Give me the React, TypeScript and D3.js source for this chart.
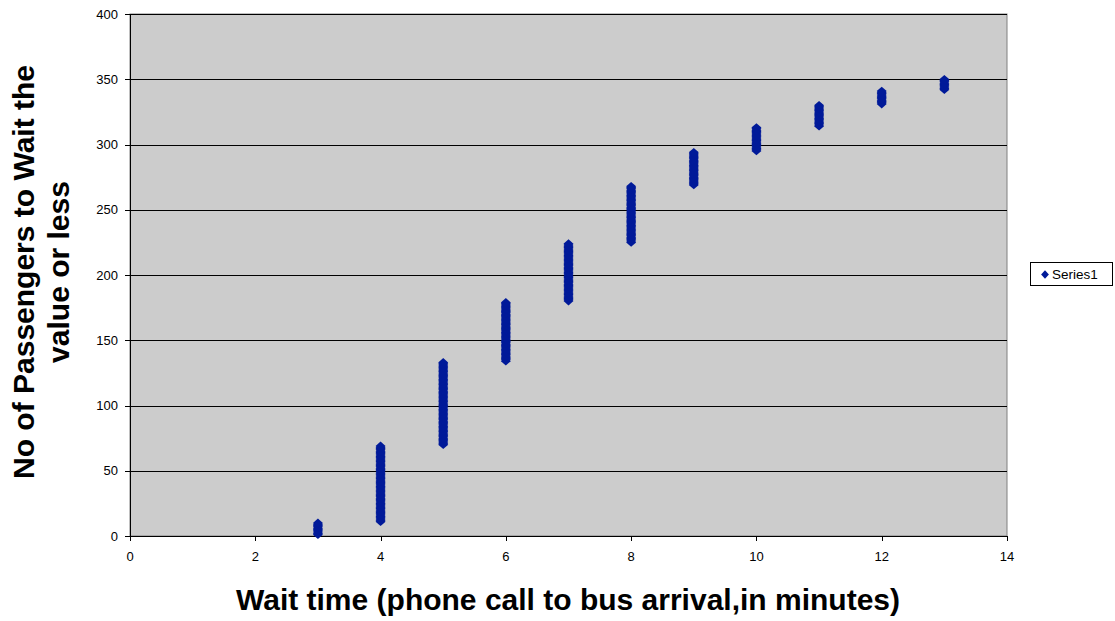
import React from "react";
import * as d3 from "d3";

const waitTimes = [3, 4, 5, 6, 7, 8, 9, 10, 11, 12, 13];
const passengerCounts = [10, 59, 64, 46, 45, 44, 26, 19, 17, 11, 9];
const xTicks = [0, 2, 4, 6, 8, 10, 12, 14];
const yTicks = [0, 50, 100, 150, 200, 250, 300, 350, 400];
const seriesName = "Series1";

export default function App() {
  const W = 1115, H = 621;
  const left = 130, right = 1007, top = 14, bottom = 536;
  const x = d3.scaleLinear().domain([0, 14]).range([left, right]);
  const y = d3.scaleLinear().domain([0, 400]).range([bottom, top]);

  const points: { t: number; v: number }[] = [];
  let cum = 0;
  waitTimes.forEach((t, i) => {
    for (let k = 0; k < passengerCounts[i]; k++) {
      cum += 1;
      points.push({ t, v: cum });
    }
  });

  const diamond = d3.symbol().type(d3.symbolDiamond2).size(48)();
  const font = "Liberation Sans, Arial, sans-serif";
  const markColor = "#001a99";

  return (
    <svg width={W} height={H} style={{ position: "absolute", left: 0, top: 0 }}>
      <rect x={0} y={0} width={W} height={H} fill="#fff" />
      <rect x={left} y={top} width={right - left} height={bottom - top} fill="#cccccc" stroke="#808080" />
      {yTicks.map((t) => (
        <line key={"g" + t} x1={left} x2={right} y1={Math.round(y(t)) + 0.5} y2={Math.round(y(t)) + 0.5} stroke="#000" strokeWidth={1} />
      ))}
      <line x1={left + 0.5} x2={left + 0.5} y1={top} y2={bottom} stroke="#000" />
      <line x1={left} x2={right} y1={bottom + 0.5} y2={bottom + 0.5} stroke="#000" />
      {yTicks.map((t) => (
        <g key={"yt" + t}>
          <line x1={left - 5} x2={left} y1={Math.round(y(t)) + 0.5} y2={Math.round(y(t)) + 0.5} stroke="#000" />
          <text x={left - 12} y={y(t) + 4.5} textAnchor="end" fontFamily={font} fontSize={13}>{t}</text>
        </g>
      ))}
      {xTicks.map((t) => (
        <g key={"xt" + t}>
          <line x1={Math.round(x(t)) + 0.5} x2={Math.round(x(t)) + 0.5} y1={bottom} y2={bottom + 5} stroke="#000" />
          <text x={x(t)} y={561} textAnchor="middle" fontFamily={font} fontSize={13}>{t}</text>
        </g>
      ))}
      {points.map((p, i) => (
        <path key={i} d={diamond!} transform={`translate(${x(p.t)},${y(p.v)}) scale(1.15,1.0)`} fill={markColor} />
      ))}
      <text x={568} y={610} textAnchor="middle" fontFamily={font} fontSize={30} fontWeight="bold">
        Wait time (phone call to bus arrival,in minutes)
      </text>
      <g transform="translate(0,272) rotate(-90)">
        <text x={0} y={34} textAnchor="middle" fontFamily={font} fontSize={30} fontWeight="bold">No of Passengers to Wait the</text>
        <text x={0} y={69} textAnchor="middle" fontFamily={font} fontSize={30} fontWeight="bold">value or less</text>
      </g>
      <rect x={1030.5} y={262.5} width={82} height={23} fill="#fff" stroke="#000" />
      <path d={diamond!} transform="translate(1045,274.5) scale(0.9,1)" fill={markColor} />
      <text x={1052} y={279} fontFamily={font} fontSize={13.5}>{seriesName}</text>
    </svg>
  );
}
